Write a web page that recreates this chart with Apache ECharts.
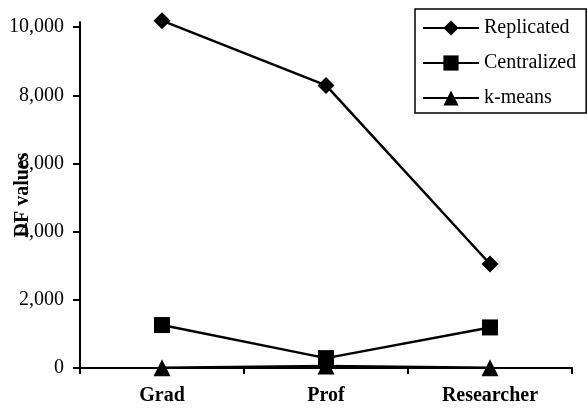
<!DOCTYPE html>
<html>
<head>
<meta charset="utf-8">
<script src="https://cdn.jsdelivr.net/npm/echarts@6/dist/echarts.min.js"></script>
<style>
  html, body { margin: 0; padding: 0; background: #fff; }
  #chart { width: 588px; height: 410px; }
</style>
</head>
<body>
<div id="chart"></div>
<script>
const categories = ["Grad", "Prof", "Researcher"];
const replicated = [10190, 8290, 3050];
const centralized = [1260, 290, 1190];
const kmeans = [10, 60, 10];
const yTicks = [0, 2000, 4000, 6000, 8000, 10000];

const font = "'Liberation Serif', 'Times New Roman', serif";
const chart = echarts.init(document.getElementById("chart"));

const mkSeries = (name, data, symbol, size) => ({
  name,
  type: "line",
  data,
  symbol,
  symbolSize: size,
  showAllSymbol: true,
  clip: false,
  lineStyle: { color: "#000", width: 2.5 },
  itemStyle: { color: "#000" },
  z: 3,
});

chart.setOption({
  animation: false,
  backgroundColor: "#fff",
  textStyle: { fontFamily: font, color: "#000" },
  grid: { left: 80, right: 16, top: 22, bottom: 42, outerBoundsMode: "none", containLabel: false },
  legend: {
    orient: "vertical",
    left: 415,
    top: 9,
    padding: [9, 10, 5, 7],
    itemWidth: 56,
    itemHeight: 19,
    itemGap: 15,
    borderColor: "#000",
    borderWidth: 1.5,
    textStyle: { fontFamily: font, fontSize: 20, color: "#000", lineHeight: 20 },
    data: ["Replicated", "Centralized", "k-means"],
  },
  xAxis: {
    type: "category",
    data: categories,
    boundaryGap: true,
    axisLine: { lineStyle: { color: "#000", width: 2 } },
    axisTick: { show: true, length: 6, lineStyle: { color: "#000", width: 2 } },
    axisLabel: { margin: 18, fontFamily: font, fontSize: 20, fontWeight: "bold", color: "#000" },
  },
  yAxis: {
    type: "value",
    min: 0,
    max: 10150,
    name: "DF values",
    nameLocation: "middle",
    nameRotate: 90,
    nameGap: 47,
    nameMoveOverlap: false,
    nameTextStyle: { fontFamily: font, fontSize: 20, fontWeight: "bold", color: "#000" },
    splitLine: { show: false },
    axisLine: { show: true, lineStyle: { color: "#000", width: 2 } },
    axisTick: { show: true, length: 7, customValues: yTicks, lineStyle: { color: "#000", width: 2 } },
    axisLabel: {
      margin: 16,
      customValues: yTicks,
      fontFamily: font,
      fontSize: 20,
      color: "#000",
      formatter: (v) => v.toLocaleString("en-US"),
    },
  },
  series: [
    mkSeries("Replicated", replicated, "diamond", 17),
    mkSeries("Centralized", centralized, "rect", 16),
    mkSeries("k-means", kmeans, "triangle", 17),
  ],
});
</script>
</body>
</html>
